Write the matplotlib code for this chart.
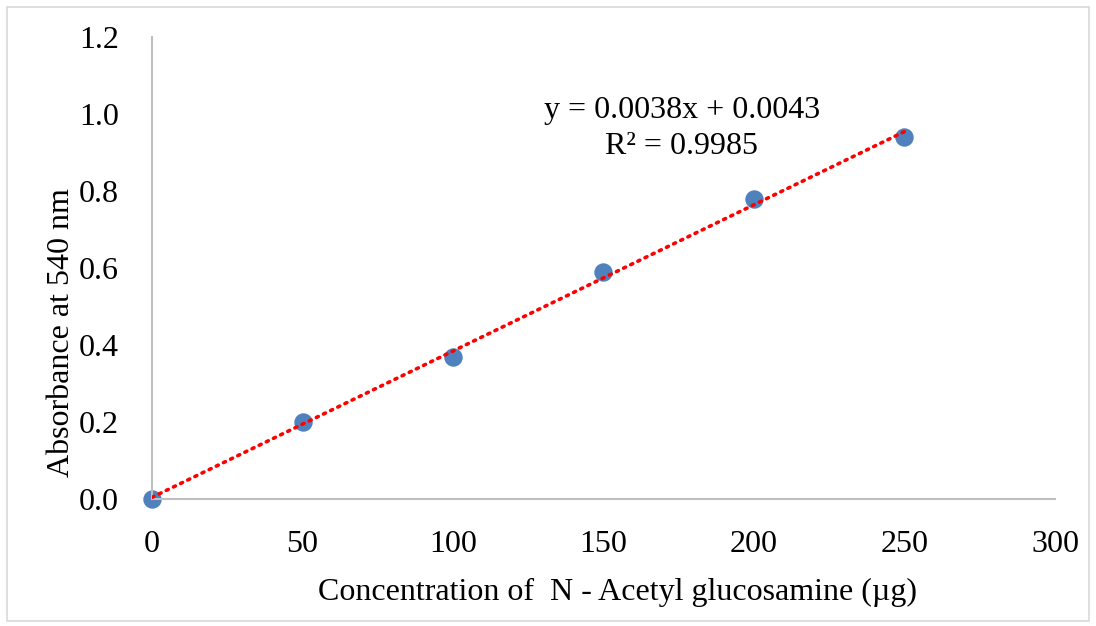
import matplotlib
matplotlib.use('Agg')
import matplotlib.pyplot as plt
import matplotlib.patches as patches
import numpy as np

# Data
conc = [0, 50, 100, 150, 200, 250]
absorb = [0.0, 0.20, 0.37, 0.59, 0.78, 0.94]
slope = 0.0038
intercept = 0.0043
r2 = 0.9985

plt.rcParams['font.family'] = ['Liberation Serif', 'DejaVu Serif']

fig = plt.figure(figsize=(10.96, 6.26), dpi=100)
ax = fig.add_axes([152 / 1096, 127 / 626, (1055 - 152) / 1096, (499 - 37) / 626])

# outer chart frame
fig.patches.append(patches.Rectangle((7 / 1096, 5 / 626), 1082 / 1096, 614 / 626,
                                     transform=fig.transFigure, fill=False,
                                     edgecolor='#d9d9d9', lw=1.2))

# trendline
xs = np.array([conc[0], conc[-1]])
ax.plot(xs, slope * xs + intercept, color='red', lw=2.6, ls=(0, (0.6, 1.6)),
        dash_capstyle='round', zorder=3)
ax.scatter(conc, absorb, s=150, color='#4F81BD', zorder=2, clip_on=False)

ax.set_xlim(0, 300)
ax.set_ylim(0, 1.2)
ax.set_xticks(range(0, 301, 50))
ax.set_yticks(np.arange(0, 1.21, 0.2))
ax.set_yticklabels([f"{v:.1f}" for v in np.arange(0, 1.21, 0.2)])
ax.tick_params(length=0, labelsize=23, pad=22)
ax.tick_params(axis='y', pad=24)

for s in ['top', 'right']:
    ax.spines[s].set_visible(False)
for s in ['left', 'bottom']:
    ax.spines[s].set_color('#bfbfbf')
    ax.spines[s].set_linewidth(1.5)

ax.text(176, 1.008, f"y = {slope}x + {intercept}", ha='center', va='center', fontsize=23)
ax.text(176, 0.915, f"R² = {r2}", ha='center', va='center', fontsize=23)

fig.text(617 / 1096, 1 - 592 / 626, "Concentration of  N - Acetyl glucosamine (µg)",
         ha='center', va='center', fontsize=23)
fig.text(62 / 1096, 1 - 333 / 626, "Absorbance at 540 nm", ha='center', va='center',
         rotation=90, fontsize=23)

plt.savefig('out.png', dpi=100)
